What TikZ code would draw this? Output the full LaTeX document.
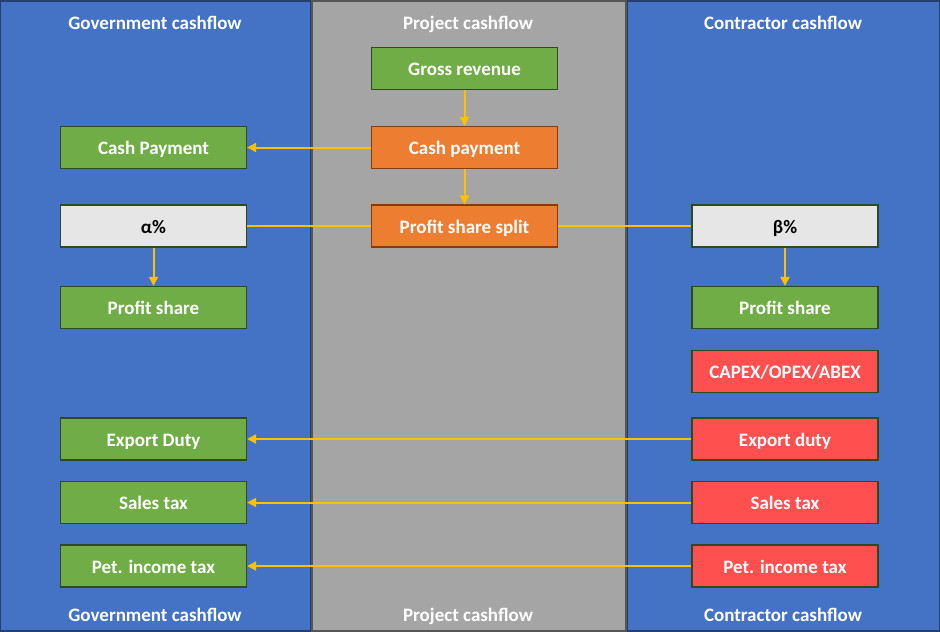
\documentclass[tikz,border=0pt]{standalone}
\usepackage{fontspec}
\setmainfont{Carlito}
\usetikzlibrary{arrows.meta,positioning}
\tikzset{every node/.append style={align=center}}
\definecolor{panelblue}{RGB}{68,114,196}
\definecolor{panelbluedark}{RGB}{38,64,110}
\definecolor{panelgrey}{RGB}{165,165,165}
\definecolor{panelgreydark}{RGB}{85,85,85}
\definecolor{cellgreen}{RGB}{112,173,71}
\definecolor{cellorange}{RGB}{237,125,49}
\definecolor{cellred}{RGB}{255,80,80}
\definecolor{cellgrey}{RGB}{231,230,230}
\definecolor{edgegreen}{RGB}{46,74,30}
\definecolor{edgeorange}{RGB}{132,60,12}
\definecolor{flowgold}{RGB}{255,192,0}

\begin{document}
\begin{tikzpicture}[x=1pt, y=-1pt, font=\fontsize{19}{22}\selectfont\bfseries,
    panel/.style={line width=1.3pt, inner sep=0pt, minimum height=630pt},
    head/.style={text=white, text height=17pt, text depth=3pt},
    cell/.style={draw=edgegreen, line width=1.2pt, minimum width=186pt, minimum height=42pt, inner sep=0pt,
        text height=16pt, text depth=2pt, text=white},
    greencell/.style={cell, fill=cellgreen},
    orangecell/.style={cell, fill=cellorange, draw=edgeorange},
    redcell/.style={cell, fill=cellred},
    greycell/.style={cell, fill=cellgrey, text=black},
    flow/.style={draw=flowgold, line width=2pt},
    flowarrow/.style={flow, -{Triangle[length=9pt, width=9pt]}}]
    \useasboundingbox (0,0) rectangle (940,632);

    % Three cashflow panels
    \node[panel, draw=panelbluedark, fill=panelblue, minimum width=310.25pt] (govpanel) at (155.875,316) {};
    \node[panel, draw=panelgreydark, fill=panelgrey, minimum width=314pt] (projpanel) at (469,316) {};
    \node[panel, draw=panelbluedark, fill=panelblue, minimum width=311.75pt] (conpanel) at (783.375,316) {};

    % Panel headers and footers
    \node[head] (govtop) at (155,22) {Government cashflow};
    \node[head] (projtop) at (468,22) {Project cashflow};
    \node[head] (contop) at (783,22) {Contractor cashflow};
    \node[head] (govbot) at (155,614) {Government cashflow};
    \node[head] (projbot) at (468,614) {Project cashflow};
    \node[head] (conbot) at (783,614) {Contractor cashflow};

    % Project column
    \node[greencell] (gross) at (464.5,68.5) {Gross revenue};
    \node[orangecell] (cashproj) at (464.5,147.5) {Cash payment};
    \node[orangecell] (split) at (464.5,226) {Profit share split};

    % Government column
    \node[greencell] (cashgov) at (153.5,147.5) {Cash Payment};
    \node[greycell] (alpha) at (153.5,226) {α\%};
    \node[greencell] (profgov) at (153.5,307.5) {Profit share};
    \node[greencell] (exportgov) at (153.5,439) {Export Duty};
    \node[greencell] (salesgov) at (153.5,502.5) {Sales tax};
    \node[greencell] (petgov) at (153.5,566) {Pet. income tax};

    % Contractor column
    \node[greycell] (beta) at (785,226) {β\%};
    \node[greencell] (profcon) at (785,307.5) {Profit share};
    \node[redcell] (capex) at (785,371.5) {CAPEX/OPEX/ABEX};
    \node[redcell] (exportcon) at (785,439) {Export duty};
    \node[redcell] (salescon) at (785,502.5) {Sales tax};
    \node[redcell] (petcon) at (785,566) {Pet. income tax};

    % Flows
    \draw[flowarrow] (gross) -- (cashproj);
    \draw[flowarrow] (cashproj) -- (split);
    \draw[flowarrow] (cashproj) -- (cashgov);
    \draw[flow] (split) -- (alpha);
    \draw[flow] (split) -- (beta);
    \draw[flowarrow] (alpha) -- (profgov);
    \draw[flowarrow] (beta) -- (profcon);
    \draw[flowarrow] (exportcon) -- (exportgov);
    \draw[flowarrow] (salescon) -- (salesgov);
    \draw[flowarrow] (petcon) -- (petgov);
\end{tikzpicture}
\end{document}
